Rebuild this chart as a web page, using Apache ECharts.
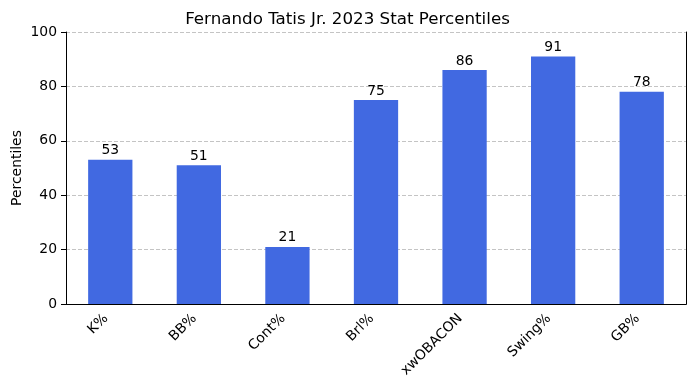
<!DOCTYPE html>
<html>
<head>
<meta charset="utf-8">
<script src="https://cdn.jsdelivr.net/npm/echarts@6/dist/echarts.min.js"></script>
<style>html,body{margin:0;padding:0;background:#fff}#c{width:695px;height:390px}</style>
</head>
<body>
<div id="c"></div>
<script>
const categories = ['K%', 'BB%', 'Cont%', 'Brl%', 'xwOBACON', 'Swing%', 'GB%'];
const percentiles = [53, 51, 21, 75, 86, 91, 78];
const yTicks = [0, 20, 40, 60, 80, 100];

const font = 'DejaVu Sans';
const chart = echarts.init(document.getElementById('c'), null, {renderer: 'canvas'});
chart.setOption({
  animation: false,
  backgroundColor: '#fff',
  title: {
    text: 'Fernando Tatis Jr. 2023 Stat Percentiles',
    left: 'center', top: 6,
    textStyle: {fontFamily: font, fontSize: 16.7, fontWeight: 'normal', color: '#000'}
  },
  grid: {left: 66, right: 9, top: 32, bottom: 86, containLabel: false, outerBoundsMode: 'none'},
  xAxis: [{
    type: 'category', data: categories,
    axisLine: {lineStyle: {color: '#000', width: 1}},
    axisTick: {alignWithLabel: true, length: 5, lineStyle: {color: '#000'}},
    axisLabel: {rotate: 45, fontFamily: font, fontSize: 13.9, color: '#000', margin: 8, interval: 0,
      padding: [0, 6, 0, 0]},
    splitLine: {show: false}
  }, {
    type: 'category', data: categories, position: 'top',
    axisLine: {lineStyle: {color: '#000', width: 1}},
    axisTick: {show: false}, axisLabel: {show: false}
  }],
  yAxis: [{
    type: 'value', min: 0, max: 100, interval: 20,
    name: 'Percentiles', nameLocation: 'middle', nameGap: 42, nameMoveOverlap: false,
    nameTextStyle: {fontFamily: font, fontSize: 13.9, color: '#000'},
    axisLine: {show: true, lineStyle: {color: '#000', width: 1}},
    axisTick: {show: true, length: 5, lineStyle: {color: '#000'}},
    axisLabel: {fontFamily: font, fontSize: 13.9, color: '#000', margin: 9,
      formatter: v => yTicks.includes(v) ? String(v) : ''},
    splitLine: {show: true, lineStyle: {color: '#c4c4c4', type: [4, 2], width: 1}}
  }, {
    type: 'value', min: 0, max: 100, interval: 20, position: 'right',
    axisLine: {show: true, lineStyle: {color: '#000', width: 1}},
    axisTick: {show: false}, axisLabel: {show: false}, splitLine: {show: false}
  }],
  series: [{
    type: 'bar', data: percentiles, barWidth: '50%',
    itemStyle: {color: '#4169E1'},
    label: {show: true, position: 'top', distance: 2, fontFamily: font, fontSize: 13.9, color: '#000'}
  }]
});
</script>
</body>
</html>
